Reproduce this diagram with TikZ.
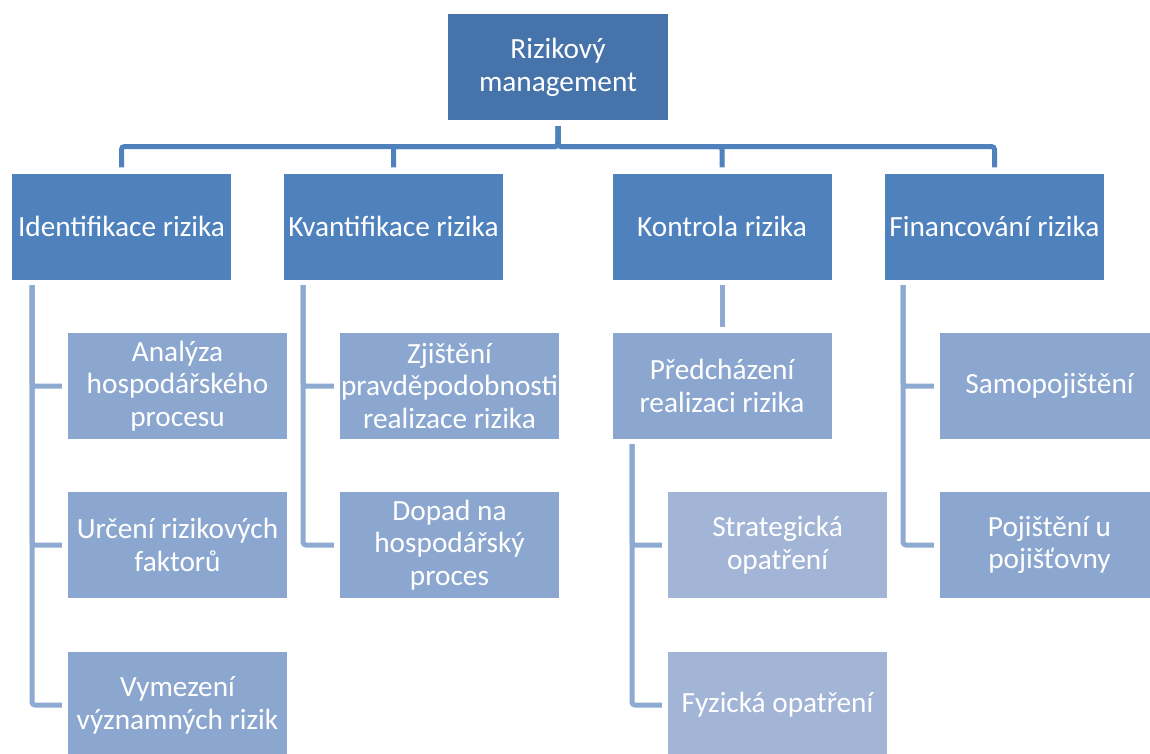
\documentclass[tikz,border=0pt]{standalone}
\usepackage{fontspec}
\setmainfont{Carlito}
\definecolor{topc}{HTML}{4673AA}
\definecolor{lvone}{HTML}{4F81BD}
\definecolor{lvtwo}{HTML}{8BA7CF}
\definecolor{lvthree}{HTML}{A2B5D6}
\definecolor{linetwo}{HTML}{8FAAD0}
\tikzset{
  box/.style={rectangle, draw=none, minimum width=219pt, minimum height=106pt, inner sep=1pt,
    text=white, align=center, font=\fontsize{29.3}{32.8}\selectfont},
  topbox/.style={box, fill=topc, minimum width=220pt},
  onebox/.style={box, fill=lvone},
  twobox/.style={box, fill=lvtwo},
  threebox/.style={box, fill=lvthree},
  mainline/.style={draw=lvone, line width=5pt, rounded corners=3pt, shorten <=6pt, shorten >=6pt},
  subline/.style={draw=linetwo, line width=5pt, rounded corners=3pt, shorten <=5pt, shorten >=6pt}
}
\begin{document}
\begin{tikzpicture}[x=1pt,y=-1pt]
\clip (0,0) rectangle (1150,753);
\fill[white] (0,0) rectangle (1150,753);
% top
\node[topbox] (top) at (558,67) {Rizikový\\management};
% level one
\node[onebox] (id) at (121.5,226.5) {Identifikace rizika};
\node[onebox] (kv) at (393.5,226.5) {Kvantifikace rizika};
\node[onebox] (ko) at (722,226.5) {Kontrola rizika};
\node[onebox] (fi) at (994.5,226.5) {Financování rizika};
% level two
\node[twobox] (a1) at (177.5,386) {Analýza\\hospodářského\\procesu};
\node[twobox] (a2) at (177.5,545) {Určení rizikových\\faktorů};
\node[twobox] (a3) at (177.5,705) {Vymezení\\významných rizik};
\node[twobox] (k1) at (449.5,386) {Zjištění\\pravděpodobnosti\\realizace rizika};
\node[twobox] (k2) at (449.5,545) {Dopad na\\hospodářský\\proces};
\node[twobox] (pr) at (722,386) {Předcházení\\realizaci rizika};
\node[threebox] (s1) at (777.5,545) {Strategická\\opatření};
\node[threebox] (s2) at (777.5,705) {Fyzická opatření};
\node[twobox] (f1) at (1049.5,386) {Samopojištění};
\node[twobox] (f2) at (1049.5,545) {Pojištění u\\pojišťovny};
% bracket origins
\coordinate (idb) at (32,280);
\coordinate (kvb) at (303,280);
\coordinate (prb) at (632,439);
\coordinate (fib) at (903,280);
\coordinate (bar) at (558,146.5);
% main connectors
\foreach \n in {id,kv,ko,fi}{
  \draw[mainline] (top.south) -- (bar) -| (\n.north);
}
% sub connectors
\draw[subline] (idb) |- (a1.west);
\draw[subline] (idb) |- (a2.west);
\draw[subline] (idb) |- (a3.west);
\draw[subline] (kvb) |- (k1.west);
\draw[subline] (kvb) |- (k2.west);
\draw[subline] (ko.south) -- (pr.north);
\draw[subline] (prb) |- (s1.west);
\draw[subline] (prb) |- (s2.west);
\draw[subline] (fib) |- (f1.west);
\draw[subline] (fib) |- (f2.west);
\end{tikzpicture}
\end{document}
